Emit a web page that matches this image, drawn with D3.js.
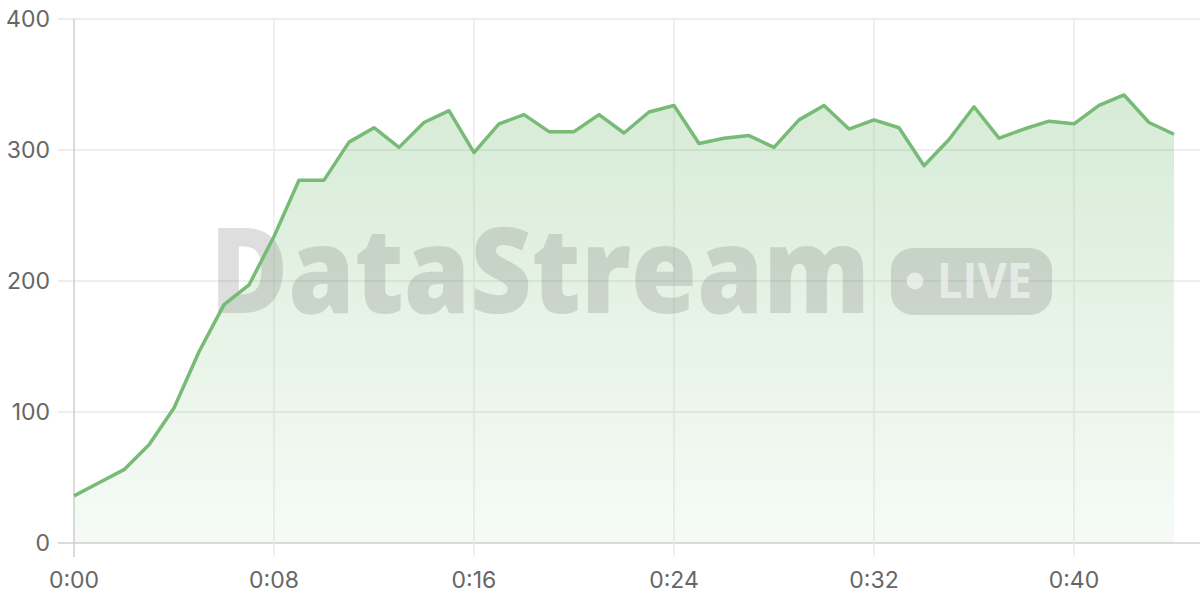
<!DOCTYPE html>
<html><head><meta charset="utf-8">
<script src="https://cdn.jsdelivr.net/npm/d3@7"></script>
<style>html,body{margin:0;padding:0;background:#fff;}svg{display:block;font-family:"Open Sans","Noto Sans",sans-serif;}</style>
</head><body><svg id="c" width="1200" height="600"></svg>
<script>
const seconds = d3.range(0, 45);
const values = [36,46,56,75,103,146,182,197,234,277,277,306,317,302,321,330,298,320,327,314,314,327,313,329,334,305,309,311,302,323,334,316,323,317,288,308,333,309,316,322,320,334,342,321,312];
const yTicks = [0,100,200,300,400];
const xTicks = [0,8,16,24,32,40];
const xLabels = ["0:00","0:08","0:16","0:24","0:32","0:40"];

const svg = d3.select("#c");
const x = d3.scaleLinear().domain([0,44]).range([74,1174]);
const y = d3.scaleLinear().domain([0,400]).range([543,19]);

// grid
svg.append("g").selectAll("line").data(yTicks).join("line")
  .attr("x1",58).attr("x2",1200).attr("y1",d=>y(d)).attr("y2",d=>y(d))
  .attr("stroke",d=>d===0?"#cfcfcf":"#e9e9e9").attr("stroke-width",d=>d===0?1.5:1.3);
svg.append("g").selectAll("line").data(xTicks).join("line")
  .attr("x1",d=>x(d)).attr("x2",d=>x(d)).attr("y1",19).attr("y2",557)
  .attr("stroke",d=>d===0?"#cfcfcf":"#e9e9e9").attr("stroke-width",d=>d===0?1.5:1.3);

// gradient
const defs = svg.append("defs");
const g = defs.append("linearGradient").attr("id","ag").attr("x1",0).attr("x2",0)
  .attr("gradientUnits","userSpaceOnUse").attr("y1",y(400)).attr("y2",y(0));
g.append("stop").attr("offset",0).attr("stop-color","rgb(110,185,110)").attr("stop-opacity",0.32);
g.append("stop").attr("offset",1).attr("stop-color","rgb(110,185,110)").attr("stop-opacity",0.06);

const area = d3.area().x((d,i)=>x(seconds[i])).y0(y(0)).y1(d=>y(d));
svg.append("path").datum(values).attr("d",area).attr("fill","url(#ag)");

// watermark
const wm = svg.append("g");
wm.append("text").text("DataStream").attr("x",210).attr("y",313)
  .attr("font-size",118).attr("font-weight",800).attr("fill","rgb(128,128,128)").attr("fill-opacity",0.26)
  .attr("textLength",660).attr("lengthAdjust","spacingAndGlyphs");
wm.append("rect").attr("x",891).attr("y",248).attr("width",161).attr("height",67).attr("rx",22)
  .attr("fill","rgb(128,128,128)").attr("fill-opacity",0.26);
wm.append("circle").attr("cx",915).attr("cy",281).attr("r",8.5).attr("fill","#fff").attr("fill-opacity",0.55);
wm.append("text").text("LIVE").attr("x",937).attr("y",298).attr("font-size",48).attr("font-weight",700)
  .attr("fill","#fff").attr("fill-opacity",0.55).attr("textLength",95).attr("lengthAdjust","spacingAndGlyphs");

// line
const line = d3.line().x((d,i)=>x(seconds[i])).y(d=>y(d));
svg.append("path").datum(values).attr("d",line).attr("fill","none")
  .attr("stroke","#77bb77").attr("stroke-width",3.5).attr("stroke-linejoin","round");

// labels
svg.append("g").selectAll("text").data(yTicks).join("text")
  .attr("x",50).attr("y",d=>y(d)+8).attr("text-anchor","end").style("font-family","Inter, sans-serif")
  .attr("font-size",23).attr("fill","#666").text(d=>d);
svg.append("g").selectAll("text").data(xTicks).join("text")
  .attr("x",d=>x(d)).attr("y",588).attr("text-anchor","middle").style("font-family","Inter, sans-serif")
  .attr("font-size",23).attr("fill","#666").text((d,i)=>xLabels[i]);
</script></body></html>
